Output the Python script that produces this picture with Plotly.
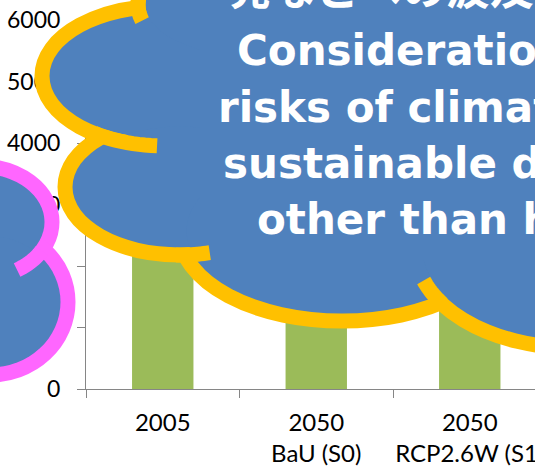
import numpy as np
import plotly.graph_objects as go

# ---------------- data ----------------
categories = ["2005", "2050<br>BaU (S0)", "2050<br>RCP2.6W (S1)"]
values = [3900, 5300, 4200]
y_ticks = [0, 1000, 2000, 3000, 4000, 5000, 6000]
callout_jp = "発などへの波及"
callout_en = ["Consideration of the", "risks of climate change on",
              "sustainable development", "other than health"]

# ---------------- layout helpers ----------------
W, H = 535, 466
ML, MR, MT, MB = 86, 0, 20, 77
PW, PH = W - ML - MR, H - MT - MB

def fx(px):
    return (px - ML) / PW

def fy(py):
    return (H - MB - py) / PH

BLUE = "#4F81BD"
YEL = "#FFC000"
PINK = "#FF66FF"
GREEN = "#9BBB59"
AX = "#868686"

shapes = []

def cloud(lobes, stubs, col, w=15, fillers=()):
    s = w / 2.0
    for (cx, cy, a, b) in lobes:
        shapes.append(dict(type="circle", xref="paper", yref="paper",
                           x0=fx(cx - (a - s)), x1=fx(cx + (a - s)),
                           y0=fy(cy + (b - s)), y1=fy(cy - (b - s)),
                           line=dict(color=col, width=2 * w),
                           fillcolor=BLUE, layer="above"))
    for (cx, cy, a, b) in lobes:
        shapes.append(dict(type="circle", xref="paper", yref="paper",
                           x0=fx(cx - (a - s)), x1=fx(cx + (a - s)),
                           y0=fy(cy + (b - s)), y1=fy(cy - (b - s)),
                           line=dict(width=0), fillcolor=BLUE, layer="above"))
    for (x0, y0, x1, y1) in fillers:
        shapes.append(dict(type="rect", xref="paper", yref="paper",
                           x0=fx(x0), x1=fx(x1), y0=fy(y1), y1=fy(y0),
                           line=dict(width=0), fillcolor=BLUE, layer="above"))
    for (li, t0, t1) in stubs:
        cx, cy, a, b = lobes[li]
        ts = np.radians(np.linspace(t0, t1, 12))
        pts = [(fx(cx + a * np.cos(t)), fy(cy + b * np.sin(t))) for t in ts]
        path = "M " + " L ".join(f"{x:.5f},{y:.5f}" for x, y in pts)
        shapes.append(dict(type="path", xref="paper", yref="paper", path=path,
                           line=dict(color=col, width=w), layer="above"))

big_lobes = [
    (165, 76, 123, 70),
    (260, 5, 122, 60),
    (180, 187, 115, 68),
    (342, 231, 163, 90),
    (575, 248, 160, 100),
]
big_stubs = [(0, 125, 93.7), (1, 188, 165), (2, 92, 75), (4, 146, 161)]
cloud(big_lobes, big_stubs, YEL, fillers=[(200, -100, 600, 260)])

pink_lobes = [(-20, 222, 72, 56), (-10, 302, 78, 73)]
pink_stubs = [(0, 30.6, 59)]
cloud(pink_lobes, pink_stubs, PINK)

# ---------------- annotations ----------------
annotations = []

def line_ann(text, px, baseline, size, family, k):
    annotations.append(dict(text=f"<b>{text}</b>", xref="paper", yref="paper",
                            x=fx(px), y=fy(baseline - k * size),
                            xanchor="left", yanchor="middle", showarrow=False,
                            font=dict(family=family, size=size, color="white")))

line_ann(callout_jp, 226, 3, 44, "Noto Sans CJK JP", 0.38)
en_pos = [(235, 65), (216, 122), (221, 178), (255, 234.5)]
for t, (px, bl) in zip(callout_en, en_pos):
    line_ann(t, px, bl, 42, "DejaVu Sans", 0.346)

# ---------------- figure ----------------
fig = go.Figure(go.Bar(x=categories, y=values, marker_color=GREEN,
                       marker_line_width=0))

fig.update_layout(
    width=W, height=H,
    margin=dict(l=ML, r=MR, t=MT, b=MB, pad=0, autoexpand=False),
    paper_bgcolor="white", plot_bgcolor="white",
    showlegend=False, bargap=0.6,
    shapes=shapes, annotations=annotations,
    xaxis=dict(type="category", range=[-0.5, 2.425], showline=True,
               linecolor=AX, linewidth=1, ticks="outside", tickson="boundaries",
               ticklen=8, tickcolor=AX, tickwidth=1, showgrid=False,
               tickfont=dict(family="Lato", size=24, color="black"),
               tickangle=0, automargin=False,
               ticklabelstandoff=12, fixedrange=True),
    yaxis=dict(range=[0, 6000], tickvals=y_ticks, showline=True, linecolor=AX,
               linewidth=1, ticks="outside", ticklen=8, tickcolor=AX,
               tickwidth=1, showgrid=False, zeroline=False, automargin=False,
               tickfont=dict(family="Lato", size=23, color="black"),
               ticklabelstandoff=12, fixedrange=True),
)

fig.write_html("out.html")
